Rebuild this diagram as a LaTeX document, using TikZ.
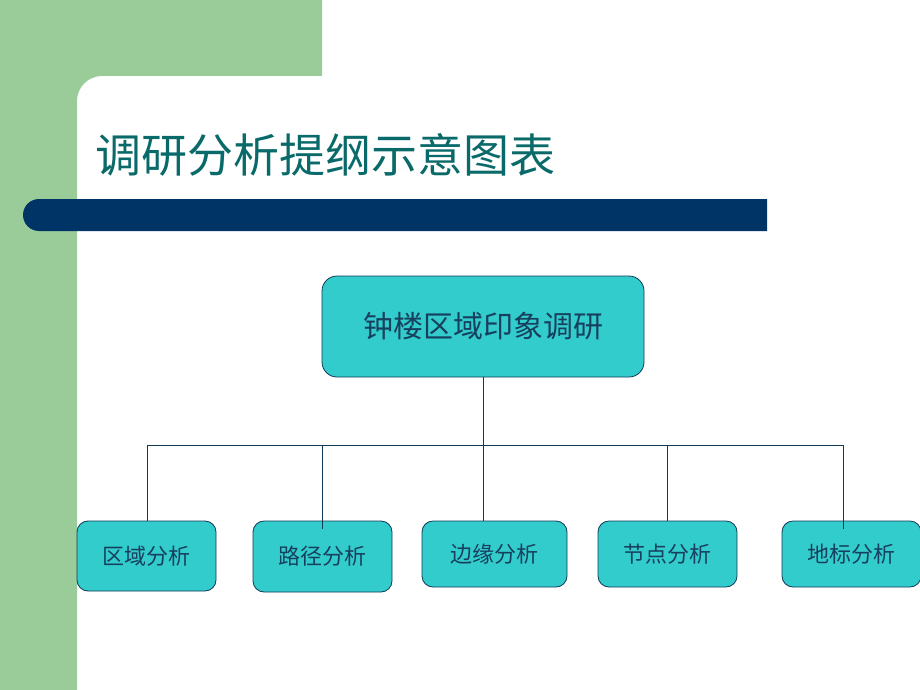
\documentclass[tikz,border=0pt]{standalone}
\usepackage{fontspec}
\newfontfamily\cjk{Noto Sans CJK SC}
\usetikzlibrary{positioning}
\definecolor{slidegreen}{HTML}{99CC99}
\definecolor{barblue}{HTML}{003366}
\definecolor{boxcyan}{HTML}{33CCCC}
\definecolor{edgeblue}{HTML}{0F3A55}
\definecolor{titleteal}{HTML}{0A6A6A}
\definecolor{boxtext}{HTML}{17405E}

\begin{document}
\begin{tikzpicture}[x=1pt,y=-1pt,
  topbox/.style={draw=edgeblue,fill=boxcyan,line width=0.8pt,rounded corners=15pt,
    minimum width=322pt,minimum height=101pt,text=boxtext,
    font=\cjk\fontsize{30}{34}\selectfont},
  subbox/.style={draw=edgeblue,fill=boxcyan,line width=0.8pt,rounded corners=11pt,
    minimum width=139pt,minimum height=66pt,text=boxtext,
    font=\cjk\fontsize{22}{26}\selectfont},
  link/.style={draw=edgeblue,line width=0.8pt}]
\useasboundingbox (0,0) rectangle (920,690);
% \draw[help lines,step=50pt] (0,0) grid (920,690);
\fill[slidegreen] (0,0) -- (322,0) -- (322,76) [rounded corners=25pt] -- (77,76)
  [sharp corners] -- (77,690) -- (0,690) -- cycle;
\fill[barblue] (767,199) -- (39,199) arc (270:90:16) -- (767,231) -- cycle;
%
\node (title) [anchor=west,inner sep=0pt,text=titleteal,font=\cjk\fontsize{46}{50}\selectfont]
  at (95,155) {调研分析提纲示意图表};
%
\node (top) [topbox] at (483,326.5) {钟楼区域印象调研};
\node (b1) [subbox,minimum height=70pt] at (146.5,556) {区域分析};
\node (b2) [subbox,minimum height=71pt] at (322.5,556.5) {路径分析};
\node (b3) [subbox,minimum width=145pt] at (494.5,554) {边缘分析};
\node (b4) [subbox] at (667.5,554) {节点分析};
\node (b5) [subbox] at (851.5,554) {地标分析};
%
\coordinate (hub) at (483,445);
\coordinate (barL) at (147,445);
\coordinate (barR) at (843,445);
\path[link] (top.south) -- (hub);
\path[link] (barL) -- (barR);
\foreach \b/\x/\d in {b1/147/0,b2/322/8,b3/483/0,b4/667/0,b5/843/8}
  \path[link] (\x,445) -- ([yshift=-\d pt]\x,445 |- \b.north);
\end{tikzpicture}
\end{document}
